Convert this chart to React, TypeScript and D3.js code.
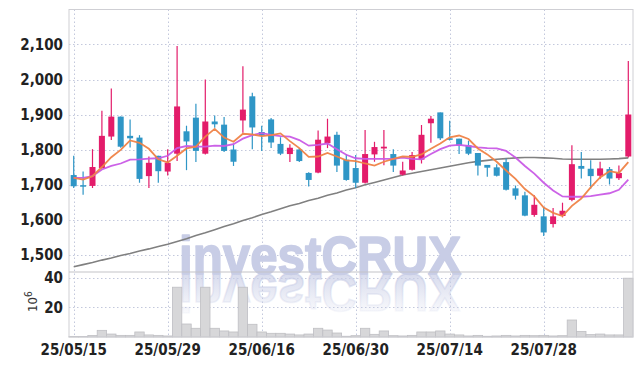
import * as d3 from "d3";

const dates = [
  "25/05/15", "25/05/16", "25/05/19", "25/05/20", "25/05/21", "25/05/22", "25/05/23", "25/05/26", "25/05/27", "25/05/28",
  "25/05/29", "25/05/30", "25/06/02", "25/06/04", "25/06/05", "25/06/09", "25/06/10", "25/06/11", "25/06/12", "25/06/13",
  "25/06/16", "25/06/17", "25/06/18", "25/06/19", "25/06/20", "25/06/23", "25/06/24", "25/06/25", "25/06/26", "25/06/27",
  "25/06/30", "25/07/01", "25/07/02", "25/07/03", "25/07/04", "25/07/07", "25/07/08", "25/07/09", "25/07/10", "25/07/11",
  "25/07/14", "25/07/15", "25/07/16", "25/07/17", "25/07/18", "25/07/21", "25/07/22", "25/07/23", "25/07/24", "25/07/25",
  "25/07/28", "25/07/29", "25/07/30", "25/07/31", "25/08/01", "25/08/04", "25/08/05", "25/08/06", "25/08/07", "25/08/08",
];
const tickDates = ["25/05/15", "25/05/29", "25/06/16", "25/06/30", "25/07/14", "25/07/28"];

const open = [
  1727, 1698, 1696, 1747, 1837, 1894, 1839, 1834, 1724, 1782,
  1737, 1788, 1852, 1891, 1788, 1880, 1871, 1800, 1883, 1952,
  1850, 1886, 1816, 1787, 1800, 1733, 1734, 1818, 1842, 1771,
  1747, 1705, 1786, 1803, 1787, 1728, 1742, 1771, 1875, 1906,
  1832, 1831, 1812, 1790, 1756, 1749, 1764, 1689, 1669, 1613,
  1609, 1587, 1610, 1656, 1753, 1745, 1725, 1744, 1718, 1780,
];
const close = [
  1695, 1694, 1750, 1839, 1894, 1808, 1832, 1716, 1762, 1738,
  1762, 1923, 1823, 1796, 1880, 1872, 1796, 1765, 1914, 1863,
  1840, 1820, 1788, 1805, 1767, 1713, 1828, 1837, 1754, 1713,
  1705, 1787, 1807, 1808, 1754, 1740, 1784, 1842, 1888, 1832,
  1828, 1812, 1788, 1754, 1748, 1725, 1685, 1668, 1611, 1642,
  1563, 1609, 1625, 1758, 1745, 1724, 1746, 1717, 1733, 1900,
];
const high = [
  1782, 1737, 1801, 1911, 1974, 1894, 1886, 1841, 1780, 1782,
  1801, 2096, 1868, 1931, 2000, 1897, 1893, 1817, 2038, 1962,
  1868, 1890, 1835, 1815, 1804, 1735, 1854, 1888, 1851, 1787,
  1784, 1856, 1822, 1856, 1801, 1765, 1793, 1870, 1896, 1906,
  1882, 1831, 1825, 1790, 1756, 1758, 1774, 1697, 1679, 1669,
  1636, 1633, 1648, 1812, 1793, 1769, 1765, 1750, 1754, 2053,
];
const low = [
  1690, 1671, 1690, 1745, 1827, 1805, 1806, 1705, 1690, 1705,
  1726, 1767, 1741, 1764, 1786, 1862, 1793, 1753, 1848, 1801,
  1796, 1804, 1784, 1764, 1764, 1694, 1732, 1804, 1736, 1711,
  1690, 1703, 1765, 1755, 1736, 1726, 1740, 1760, 1819, 1827,
  1826, 1787, 1784, 1726, 1722, 1723, 1683, 1657, 1609, 1608,
  1553, 1577, 1606, 1652, 1717, 1688, 1716, 1700, 1713, 1777,
];
const ma5 = [
  1719, 1714, 1724, 1750, 1778, 1799, 1826, 1819, 1802, 1772,
  1763, 1782, 1803, 1808, 1837, 1859, 1834, 1822, 1845, 1843,
  1838, 1841, 1846, 1824, 1804, 1779, 1780, 1790, 1780, 1769,
  1767, 1760, 1754, 1765, 1773, 1780, 1779, 1786, 1802, 1817,
  1835, 1840, 1830, 1803, 1786, 1765, 1740, 1716, 1687, 1666,
  1634, 1619, 1610, 1639, 1660, 1692, 1720, 1738, 1733, 1764,
];
const ma20 = [
  1719, 1719, 1724, 1743, 1753, 1760, 1771, 1772, 1774, 1775,
  1782, 1804, 1810, 1808, 1808, 1811, 1810, 1815, 1831, 1841,
  1847, 1842, 1838, 1837, 1827, 1811, 1813, 1817, 1801, 1785,
  1775, 1773, 1773, 1773, 1773, 1777, 1773, 1772, 1787, 1801,
  1811, 1813, 1810, 1806, 1804, 1803, 1796, 1777, 1753, 1731,
  1705, 1683, 1666, 1665, 1665, 1667, 1671, 1675, 1685, 1714,
];
const ma60 = [
  1465, 1471, 1477, 1484, 1490, 1497, 1503, 1510, 1516, 1523,
  1529, 1537, 1545, 1554, 1562, 1571, 1580, 1588, 1597, 1605,
  1614, 1622, 1631, 1639, 1646, 1654, 1661, 1669, 1676, 1684,
  1691, 1699, 1706, 1713, 1720, 1727, 1732, 1737, 1742, 1747,
  1752, 1757, 1762, 1766, 1769, 1772, 1774, 1776, 1777, 1777,
  1776, 1775, 1773, 1772, 1772, 1772, 1772, 1773, 1774, 1776,
];
// millions of shares
const volume = [
  0.3, 0.4, 1.0, 4.5, 2.0, 1.1, 1.1, 3.4, 1.4, 1.1,
  0.7, 33.7, 8.8, 5.9, 33.7, 5.9, 4.1, 3.4, 33.7, 8.6,
  3.4, 2.5, 2.5, 2.0, 1.4, 2.0, 5.9, 4.7, 2.7, 0.5,
  0.9, 5.9, 1.8, 4.1, 0.9, 0.7, 1.1, 3.4, 3.4, 4.1,
  2.0, 1.4, 0.7, 1.1, 0.5, 0.7, 1.1, 0.7, 1.1, 0.9,
  1.1, 0.7, 0.9, 11.5, 3.8, 1.6, 2.0, 1.4, 1.4, 39.8,
];
const priceTicks = [1500, 1600, 1700, 1800, 1900, 2000, 2100];
const volumeTicks = [20, 40];

const W = 643;
const H = 366;
const left = 69;
const right = 633;
const top = 9.5;
const mid = 272;
const bottom = 337;

const UP = "#e31c6a";
const DOWN = "#2f96c6";
const GRID = "#c3c8dc";
const WM = "#c8cde6";
const FONT = "'Liberation Sans Narrow', 'DejaVu Sans Condensed', sans-serif";

export default function App() {
  const x = d3.scaleBand<string>().domain(dates).range([left, right]).padding(0);
  const cx = (d: string) => (x(d) ?? 0) + x.bandwidth() / 2;
  const y = d3.scaleLinear().domain([1450, 2200]).range([mid, top]);
  const yv = d3.scaleLinear().domain([0, 44]).range([bottom, mid]);
  const bodyW = x.bandwidth() * 0.64;

  const maLine = (vals: number[]) =>
    d3
      .line<number>()
      .x((_, i) => cx(dates[i]))
      .y((v) => y(v))(vals) ?? "";

  const wmBase = 274;
  const wmProps = {
    x: 179,
    y: wmBase,
    textLength: 282,
    lengthAdjust: "spacingAndGlyphs",
    fontFamily: "'Liberation Sans', Arial, sans-serif",
    fontWeight: "bold",
    fontSize: 54,
  } as const;

  return (
    <div style={{ position: "fixed", left: 0, top: 0 }}>
      <svg width={W} height={H} style={{ display: "block", background: "#fff" }}>
        <defs>
          <linearGradient id="refl" gradientUnits="userSpaceOnUse" x1="0" y1={wmBase} x2="0" y2={wmBase - 46}>
            <stop offset="0" stopColor={WM} stopOpacity="0.7" />
            <stop offset="1" stopColor={WM} stopOpacity="0" />
          </linearGradient>
        </defs>

        {/* grid */}
        <g stroke={GRID} strokeWidth={1} strokeDasharray="1.5,2.5" fill="none">
          {priceTicks.map((t) => (
            <line key={t} x1={left} x2={right} y1={Math.round(y(t)) + 0.5} y2={Math.round(y(t)) + 0.5} />
          ))}
          {volumeTicks.map((t) => (
            <line key={"v" + t} x1={left} x2={right} y1={Math.round(yv(t)) + 0.5} y2={Math.round(yv(t)) + 0.5} />
          ))}
          {tickDates.map((d) => (
            <line key={d} x1={Math.round(cx(d)) + 0.5} x2={Math.round(cx(d)) + 0.5} y1={top} y2={bottom} />
          ))}
        </g>

        {/* watermark with reflection */}
        <text {...wmProps} fill={WM} stroke={WM} strokeWidth={1.6} strokeLinejoin="round">
          investCRUX
        </text>
        <text
          {...wmProps}
          transform={`translate(0,${2 * wmBase}) scale(1,-1)`}
          fill="url(#refl)"
          stroke="url(#refl)"
          strokeWidth={1.6}
        >
          investCRUX
        </text>

        {/* volume */}
        <g fill="#d7d7d9" stroke="#bfbfc3" strokeWidth={0.8}>
          {dates.map((d, i) => (
            <rect key={d} x={x(d)} y={yv(volume[i])} width={x.bandwidth()} height={bottom - yv(volume[i])} />
          ))}
        </g>

        {/* long MA */}
        <path d={maLine(ma60)} fill="none" stroke="#808080" strokeWidth={1.6} />

        {/* candles */}
        {dates.map((d, i) => {
          const up = close[i] >= open[i];
          const c = up ? UP : DOWN;
          const yt = y(Math.max(open[i], close[i]));
          const yb = y(Math.min(open[i], close[i]));
          return (
            <g key={d}>
              <line x1={cx(d)} x2={cx(d)} y1={y(high[i])} y2={y(low[i])} stroke={c} strokeWidth={1.2} />
              <rect x={cx(d) - bodyW / 2} y={yt} width={bodyW} height={Math.max(1.5, yb - yt)} fill={c} />
            </g>
          );
        })}

        {/* short MAs */}
        <path d={maLine(ma20)} fill="none" stroke="#c95ae6" strokeWidth={1.8} strokeOpacity={0.95} />
        <path d={maLine(ma5)} fill="none" stroke="#ef8246" strokeWidth={1.8} strokeOpacity={0.95} />

        {/* frame */}
        <rect x={left} y={top} width={right - left} height={bottom - top} fill="none" stroke="#cfcfd4" strokeWidth={1} />
        <line x1={left} x2={right} y1={mid} y2={mid} stroke="#c4c4c8" strokeWidth={1.2} />

        {/* axis labels */}
        <g fontFamily={FONT} fontWeight="bold" fontSize={15} fill="#222" textAnchor="end">
          {priceTicks.map((t) => (
            <text key={t} x={63} y={y(t)} dy="0.36em">
              {d3.format(",")(t)}
            </text>
          ))}
          {volumeTicks.map((t) => (
            <text key={"v" + t} x={63} y={yv(t)} dy="0.36em">
              {t}
            </text>
          ))}
        </g>
        <g fontFamily={FONT} fontWeight="bold" fontSize={15} fill="#222" textAnchor="middle">
          {tickDates.map((d) => (
            <text key={d} x={cx(d)} y={355}>
              {d}
            </text>
          ))}
        </g>
        <text transform="translate(37,312) rotate(-90)" fontFamily={FONT} fontSize={13} fill="#333">
          10
          <tspan dy={-5} fontSize={10}>
            6
          </tspan>
        </text>
      </svg>
    </div>
  );
}
